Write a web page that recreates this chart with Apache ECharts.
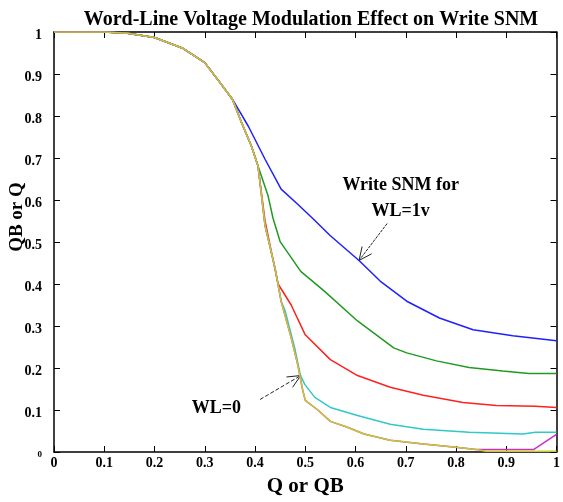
<!DOCTYPE html>
<html>
<head>
<meta charset="utf-8">
<script src="https://cdn.jsdelivr.net/npm/echarts@6/dist/echarts.min.js"></script>
<style>
html, body { margin: 0; padding: 0; background: #fff; }
#chart { width: 563px; height: 502px; }
</style>
</head>
<body>
<div id="chart"></div>
<script>
// points shared by every curve (top part)
const headAll = [[0, 1], [0.1, 1], [0.146, 0.997], [0.2, 0.987], [0.255, 0.962], [0.3, 0.927], [0.33, 0.88], [0.355, 0.84]];
// shared by all but WL=1v
const headSteep = [[0.373, 0.785], [0.393, 0.728], [0.406, 0.681]];
// shared by the three lowest curves
const midSteep = [[0.42, 0.539], [0.44, 0.437], [0.452, 0.359]];
// shared by the two lowest curves
const lowTail = [[0.472, 0.272], [0.485, 0.208], [0.495, 0.147], [0.5, 0.123], [0.525, 0.1], [0.55, 0.073], [0.584, 0.059], [0.617, 0.043], [0.669, 0.028], [0.735, 0.019], [0.795, 0.012], [0.84, 0.006]];

const blueTail = [[0.387, 0.775], [0.42, 0.697], [0.452, 0.626], [0.485, 0.59], [0.515, 0.556], [0.55, 0.515], [0.607, 0.456], [0.649, 0.407], [0.702, 0.359], [0.767, 0.319], [0.834, 0.291], [0.913, 0.277], [1, 0.265]];
const greenTail = [[0.426, 0.61], [0.436, 0.556], [0.45, 0.501], [0.491, 0.43], [0.538, 0.383], [0.604, 0.312], [0.676, 0.248], [0.702, 0.236], [0.761, 0.217], [0.826, 0.201], [0.893, 0.193], [0.945, 0.187], [1, 0.187]];
const redTail = [[0.42, 0.55], [0.432, 0.48], [0.446, 0.4], [0.472, 0.35], [0.5, 0.279], [0.55, 0.22], [0.604, 0.182], [0.669, 0.154], [0.735, 0.135], [0.814, 0.118], [0.88, 0.111], [0.958, 0.109], [1, 0.106]];
const cyanTail = [[0.46, 0.336], [0.479, 0.248], [0.49, 0.184], [0.499, 0.161], [0.519, 0.13], [0.55, 0.106], [0.604, 0.087], [0.669, 0.066], [0.735, 0.054], [0.826, 0.047], [0.933, 0.043], [0.958, 0.047], [1, 0.047]];
const magentaEnd = [[0.955, 0.006], [1, 0.042]];
const yellowEnd = [[0.86, 0.002], [1, 0.002]];

const curves = [
  { name: 'WL=1v', color: '#2020ff', data: headAll.concat(blueTail) },
  { name: 'g', color: '#209a20', data: headAll.concat(headSteep, greenTail) },
  { name: 'r', color: '#ff2020', data: headAll.concat(headSteep, redTail) },
  { name: 'c', color: '#30c8c8', data: headAll.concat(headSteep, midSteep, cyanTail) },
  { name: 'm', color: '#c830c8', data: headAll.concat(headSteep, midSteep, lowTail, magentaEnd) },
  { name: 'WL=0', color: '#c8c830', data: headAll.concat(headSteep, midSteep, lowTail, yellowEnd) }
];

const titleText = 'Word-Line Voltage Modulation Effect on Write SNM';
const noteHigh = ['Write SNM for', 'WL=1v'];
const noteHighPos = [0.69, 0.605];
const arrowHigh = [[0.663, 0.544], [0.607, 0.456]];
const noteLow = 'WL=0';
const noteLowPos = [0.323, 0.104];
const arrowLow = [[0.41, 0.125], [0.491, 0.182]];

const serif = '"Liberation Serif", "DejaVu Serif", serif';

const myChart = echarts.init(document.getElementById('chart'));

const axisCommon = {
  type: 'value',
  min: 0,
  max: 1,
  interval: 0.1,
  axisLine: { onZero: false, lineStyle: { color: '#000', width: 1.5 } },
  axisTick: { inside: true, length: 6, lineStyle: { color: '#000' } },
  splitLine: { show: false }
};

let options = {
  animation: false,
  title: {
    text: titleText,
    left: 306,
    top: 5,
    textAlign: 'center',
    textStyle: { fontFamily: serif, fontWeight: 'bold', fontSize: 20, color: '#000' }
  },
  grid: { left: 54, right: 2, top: 32, bottom: 47 },
  xAxis: [
    Object.assign({}, axisCommon, {
      position: 'bottom',
      axisLabel: { color: '#000', fontFamily: serif, fontWeight: 'bold', fontSize: 14, margin: 4 },
      name: 'Q or QB',
      nameLocation: 'middle',
      nameGap: 24,
      nameTextStyle: { fontFamily: serif, fontWeight: 'bold', fontSize: 21, color: '#000' }
    }),
    Object.assign({}, axisCommon, { position: 'top', axisLabel: { show: false } })
  ],
  yAxis: [
    Object.assign({}, axisCommon, {
      position: 'left',
      axisLabel: {
        color: '#000', fontFamily: serif, fontWeight: 'bold', fontSize: 14, margin: 12,
        padding: [6, 0, 0, 0],
        formatter: function (v) { return v === 0 ? '{s|0}' : String(v); },
        rich: { s: { fontSize: 9, fontFamily: serif, color: '#000' } }
      }
    }),
    Object.assign({}, axisCommon, { position: 'right', axisLabel: { show: false } })
  ],
  series: curves.map(function (c) {
    return {
      name: c.name,
      type: 'line',
      data: c.data,
      showSymbol: false,
      lineStyle: { color: c.color, width: 1.5 },
      emphasis: { disabled: true }
    };
  })
};

myChart.setOption(options);

// annotations placed in data coordinates
function px(p) { return myChart.convertToPixel({ xAxisIndex: 0, yAxisIndex: 0 }, p); }
function arrow(a, dash) {
  const t = px(a[0]), h = px(a[1]);
  const dx = h[0] - t[0], dy = h[1] - t[1];
  const len = Math.sqrt(dx * dx + dy * dy);
  const ux = dx / len, uy = dy / len;
  const L = 13, W = 6;
  const w1 = [h[0] - ux * L - uy * W, h[1] - uy * L + ux * W];
  const w2 = [h[0] - ux * L + uy * W, h[1] - uy * L - ux * W];
  return [
    { type: 'line', shape: { x1: t[0], y1: t[1], x2: h[0], y2: h[1] }, style: { stroke: '#222', lineWidth: 1, lineDash: dash } },
    { type: 'polyline', shape: { points: [w1, h, w2] }, style: { stroke: '#222', lineWidth: 1, fill: null } }
  ];
}

const hp = px(noteHighPos);
const lp = px(noteLowPos);
const textStyle = { fontFamily: serif, fontWeight: 'bold', fontSize: 18, fill: '#000', align: 'center', verticalAlign: 'middle' };

myChart.setOption({
  graphic: [
    { type: 'text', x: hp[0], y: hp[1], style: Object.assign({ text: noteHigh.join('\n'), lineHeight: 26 }, textStyle) },
    { type: 'text', x: lp[0], y: lp[1], style: Object.assign({ text: noteLow }, textStyle) },
    { type: 'text', x: 17, y: 217, rotation: Math.PI / 2, style: Object.assign({ text: 'QB or Q' }, textStyle, { fontSize: 19 }) }
  ].concat(arrow(arrowHigh, [3, 1]), arrow(arrowLow, [4, 2]))
});
</script>
</body>
</html>
